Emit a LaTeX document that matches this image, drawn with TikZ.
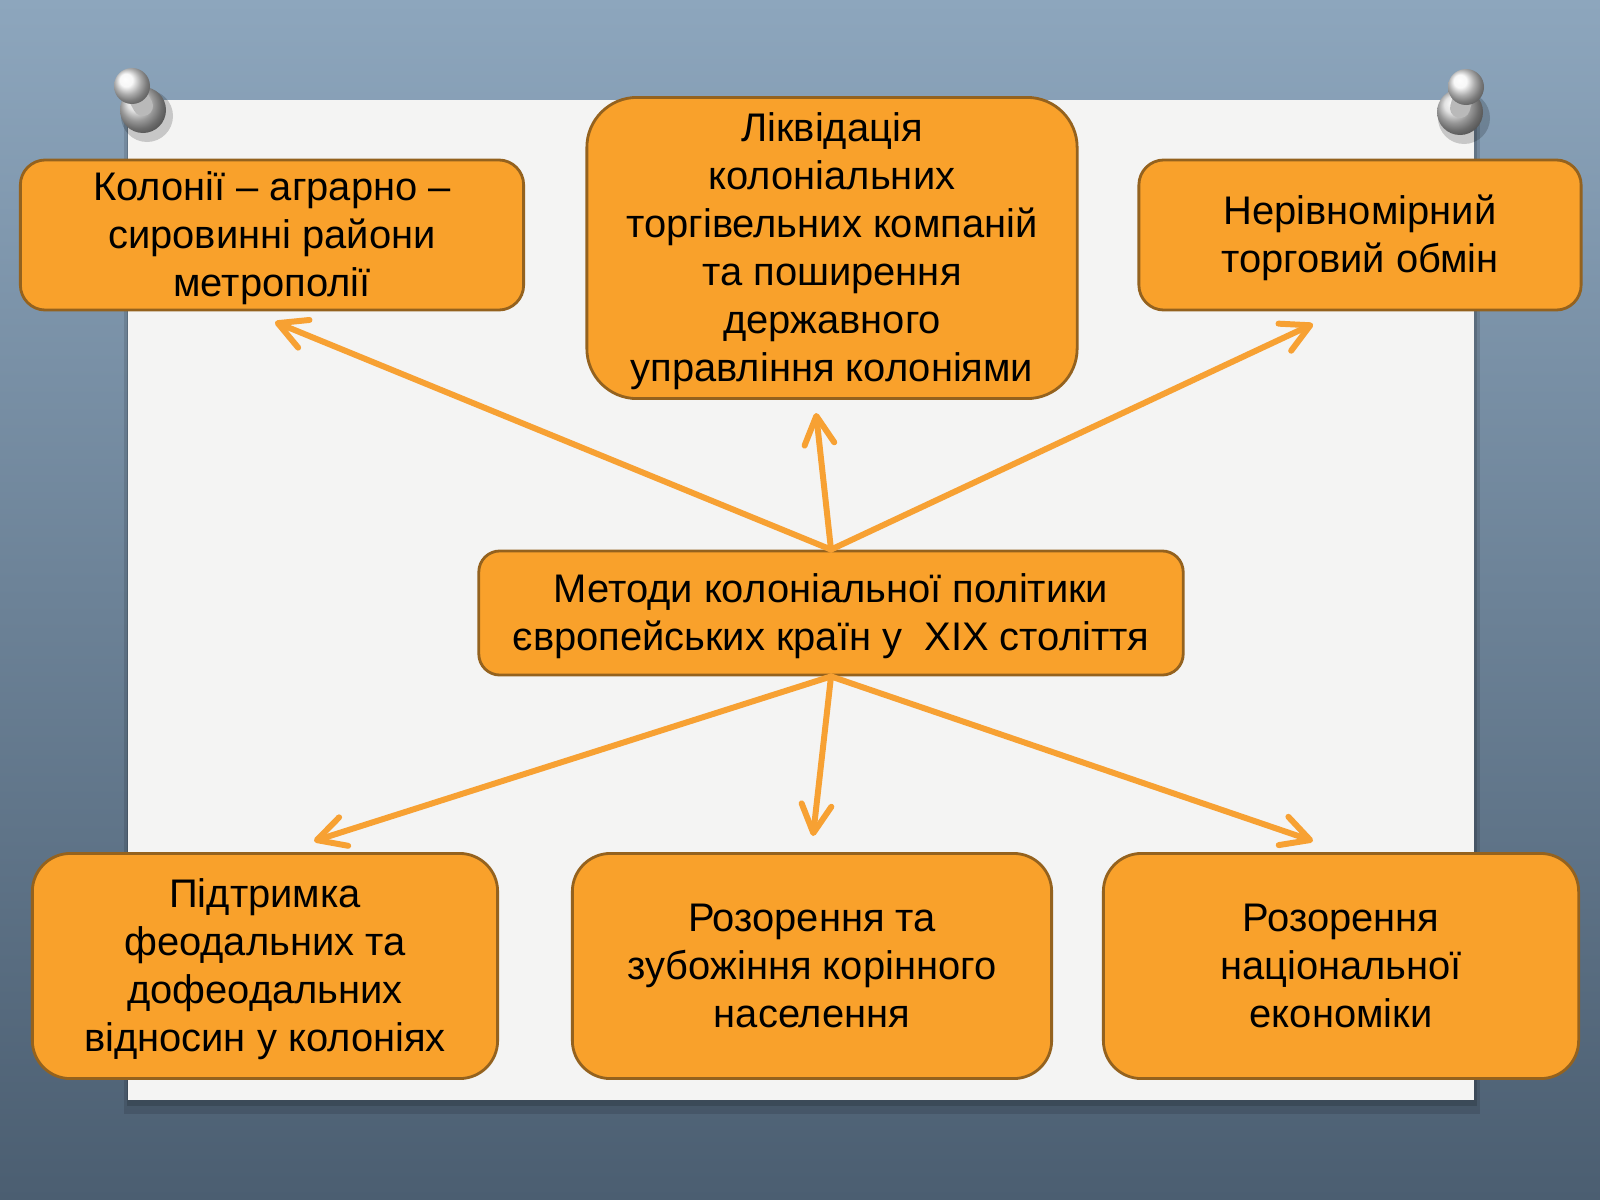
\documentclass[tikz,border=0pt]{standalone}
\usepackage{fontspec}
\setmainfont{Liberation Sans}
\usetikzlibrary{arrows.meta}
\definecolor{fonverh}{HTML}{8DA6BD}
\definecolor{fonniz}{HTML}{4B5E71}
\definecolor{arkush}{HTML}{F4F4F3}
\definecolor{pomar}{HTML}{F9A12B}
\definecolor{obvid}{HTML}{94621E}
\definecolor{strilkac}{HTML}{F7A133}
% text lines of a box, set a little lower than the box centre
\newcommand\tekst[1]{\raisebox{-0.035cm}[\height][\depth]{\begin{tabular}{@{}c@{}}#1\end{tabular}}}
\tikzset{
  blok/.style={draw=obvid, line width=0.8pt, fill=pomar, inner sep=0pt,
    font=\fontsize{11.35pt}{13.66pt}\selectfont},
  strilka/.style={strilkac, line width=1.7pt, line cap=round,
    -{Straight Barb[length=8pt,width=8.5pt,line cap=round,line join=round]}},
}
\begin{document}
\begin{tikzpicture}[x=0.01cm,y=-0.01cm,line join=round]
\useasboundingbox (0,0) rectangle (1600,1200);
% background and sheet
\shade[top color=fonverh, bottom color=fonniz] (0,0) rectangle (1600,1200);
\fill[black,opacity=0.12] (124,104) rectangle (1480,1114);
\fill[black,opacity=0.15] (127,102) rectangle (1477,1106);
\fill[arkush] (128,100) rectangle (1474,1100);
% pins
\foreach \hx/\hy/\bx/\by in {132/86/143/110, 1466/87/1460/112}{
  \fill[black,opacity=0.18] (\bx+4,\by+6) circle (26);
  \shade[ball color=gray!30] (\bx,\by) circle (23);
  \draw[gray!55,line width=0.2cm,line cap=round] (\hx,\hy) -- (\bx,\by-4);
  \shade[ball color=white!92!gray] (\hx,\hy) circle (18);
}
% boxes
\node[blok, minimum width=5.03cm, minimum height=1.5cm, rounded corners=0.25cm] (kolonii) at (272,235)
  {\tekst{Колонії – аграрно –\\сировинні райони\\метрополії}};
\node[blok, minimum width=4.9cm, minimum height=3.01cm, rounded corners=0.5cm] (likvid) at (832,248)
  {\tekst{Ліквідація\\колоніальних\\торгівельних компаній\\та поширення\\державного\\управління колоніями}};
\node[blok, minimum width=4.42cm, minimum height=1.5cm, rounded corners=0.25cm] (obmin) at (1360,235)
  {\tekst{Нерівномірний\\торговий обмін}};
\node[blok, minimum width=7.04cm, minimum height=1.24cm, rounded corners=0.21cm] (metody) at (831,613)
  {\tekst{Методи колоніальної політики\\європейських країн у\ \ XIX століття}};
\node[blok, minimum width=4.65cm, minimum height=2.25cm, rounded corners=0.38cm] (pidtr) at (265,966)
  {\tekst{Підтримка\\феодальних та\\дофеодальних\\відносин у колоніях}};
\node[blok, minimum width=4.79cm, minimum height=2.25cm, rounded corners=0.38cm] (zubozh) at (812,966)
  {\tekst{Розорення та\\зубожіння корінного\\населення}};
\node[blok, minimum width=4.75cm, minimum height=2.25cm, rounded corners=0.38cm] (ekon) at (1341,966)
  {\tekst{Розорення\\національної\\економіки}};
% arrows
\coordinate (k1) at (275,322);
\coordinate (k2) at (816,413);
\coordinate (k3) at (1313,324);
\coordinate (k4) at (314,841);
\coordinate (k5) at (813,836);
\coordinate (k6) at (1313,841);
\foreach \k in {k1,k2,k3}{\draw[strilka] (metody.north) -- (\k);}
\foreach \k in {k4,k5,k6}{\draw[strilka] (metody.south) -- (\k);}
\end{tikzpicture}
\end{document}
